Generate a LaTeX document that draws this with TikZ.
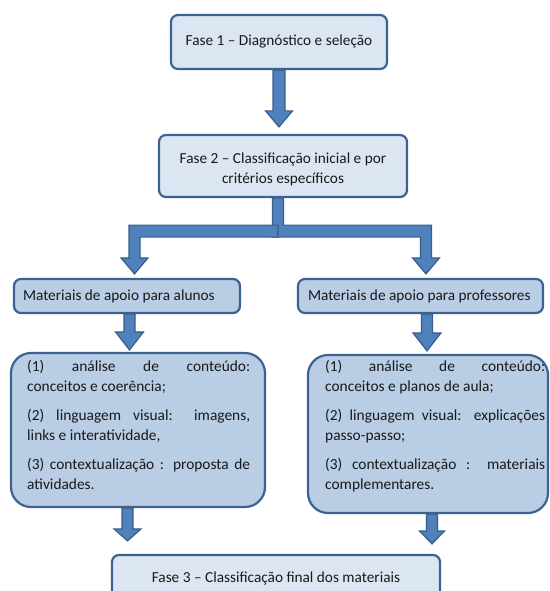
\documentclass[tikz,border=0pt]{standalone}
\usepackage{fontspec}
\setmainfont{Carlito}
\usetikzlibrary{calc,backgrounds}
\definecolor{bord}{RGB}{60,98,145}
\definecolor{lightf}{RGB}{220,230,242}
\definecolor{midf}{RGB}{185,205,229}
\definecolor{arrf}{RGB}{79,129,189}
\definecolor{arrd}{RGB}{56,93,138}
\definecolor{txt}{RGB}{25,25,25}
\tikzset{
  fbox/.style={draw=bord, line width=2.2pt, rounded corners=7pt, fill=lightf, inner sep=0pt, text=txt, font=\fontsize{15.3}{20}\selectfont, align=center},
  mbox/.style={fbox, fill=midf, inner xsep=0pt},
  lbox/.style={draw=bord, line width=2.2pt, rounded corners=20pt, fill=midf, inner sep=0pt},
  ltext/.style={align=left, inner sep=0pt, anchor=north west, text=txt, font=\fontsize{15.4}{20}\selectfont},
  fat/.style={fill=arrf, draw=arrd, line width=1.2pt, line join=miter},
}
% #1 start, #2 tip, #3 half shaft, #4 half head, #5 head length
\newcommand\fatdown[5]{%
  \draw[fat] let \p1=#1, \p2=#2 in
    (\x1-#3,\y1) -- (\x1+#3,\y1) -- (\x1+#3,\y2+#5) -- (\x1+#4,\y2+#5)
    -- (\x1,\y2) -- (\x1-#4,\y2+#5) -- (\x1-#3,\y2+#5) -- cycle;}
\newcommand\jline[2]{\makebox[#1][s]{#2}}
\begin{document}
\begin{tikzpicture}[x=1pt,y=-1pt]
\useasboundingbox (0,0) rectangle (549,591);

\node[fbox, minimum width=216pt, minimum height=54pt] (f1) at (279,42)
  {Fase 1 – Diagnóstico e seleção};
\node[fbox, minimum width=248pt, minimum height=62pt] (f2) at (283,166)
  {\rule{0pt}{17pt}Fase 2 – Classificação inicial e por\\critérios específicos};
\node[mbox, minimum width=226pt, minimum height=34pt] (ma) at (127,296)
  {\makebox[208pt][l]{Materiais de apoio para alunos}};
\node[mbox, minimum width=245pt, minimum height=34pt] (mp) at (420.5,296)
  {\makebox[225pt][l]{Materiais de apoio para professores}};

\node[lbox, minimum width=254pt, minimum height=154pt] (la) at (138,430) {};
\node[ltext] (lat) at (27,360) {%
  \jline{223pt}{(1) análise de conteúdo:}\\
  conceitos e coerência;\\[9pt]
  \jline{223pt}{(2) linguagem visual: imagens,}\\
  links e interatividade,\\[9pt]
  \jline{223pt}{(3) contextualização : proposta de}\\
  atividades.};

\node[lbox, minimum width=240pt, minimum height=158pt] (lp) at (428,434) {};
\node[ltext] (lpt) at (325,360) {%
  \jline{220pt}{(1) análise de conteúdo:}\\
  conceitos e planos de aula;\\[9pt]
  \jline{220pt}{(2) linguagem visual: explicações}\\
  passo-passo;\\[9pt]
  \jline{220pt}{(3) contextualização : materiais}\\
  complementares.};

\node[fbox, minimum width=328pt, minimum height=46pt] (f3) at (276,578)
  {Fase 3 – Classificação final dos materiais};

\begin{scope}[on background layer]
  \fatdown{(f1.south)}{($(f2.north)+(0,-7)$)}{6pt}{13.5pt}{16pt}
  % branch: right elbow then left elbow
  \draw[fat] let \p1=(f2.south), \p2=(ma.north), \p3=(mp.north) in
    (\x1-10.5pt,\y1) -- (\x1+0.5pt,\y1) -- (\x1+0.5pt,\y1-27pt)
    -- (\x3+11pt,\y1-27pt) -- (\x3+11pt,\y2+20pt) -- (\x3+19pt,\y2+20pt)
    -- (\x3+5.5pt,\y2+4pt) -- (\x3-8pt,\y2+20pt) -- (\x3+0pt,\y2+20pt)
    -- (\x3+0pt,\y1-39pt) -- (\x1-10.5pt,\y1-39pt) -- cycle;
  \draw[fat] let \p1=(f2.south), \p2=(ma.north) in
    (\x1-5pt,\y1-27pt) -- (\x2+2pt,\y1-27pt) -- (\x2+2pt,\y2+20pt)
    -- (\x2-6pt,\y2+20pt) -- (\x2+7.5pt,\y2+4pt) -- (\x2+21pt,\y2+20pt)
    -- (\x2+13pt,\y2+20pt) -- (\x2+13pt,\y1-39pt) -- (\x1-5pt,\y1-39pt) -- cycle;
  \fatdown{($(ma.south)+(2.5,0)$)}{($(la.north)+(0,-2)$)}{5.5pt}{14pt}{18pt}
  \fatdown{($(mp.south)+(6.5,0)$)}{($(lp.north)+(0,-3)$)}{5.5pt}{14pt}{18pt}
  \fatdown{($(la.south)+(-10.5,0)$)}{($(f3.north)+(0,-13)$)}{5.5pt}{13.5pt}{12pt}
  \fatdown{($(lp.south)+(4,0)$)}{($(f3.north)+(0,-10)$)}{5.5pt}{12.5pt}{13pt}
\end{scope}
\end{tikzpicture}
\end{document}
